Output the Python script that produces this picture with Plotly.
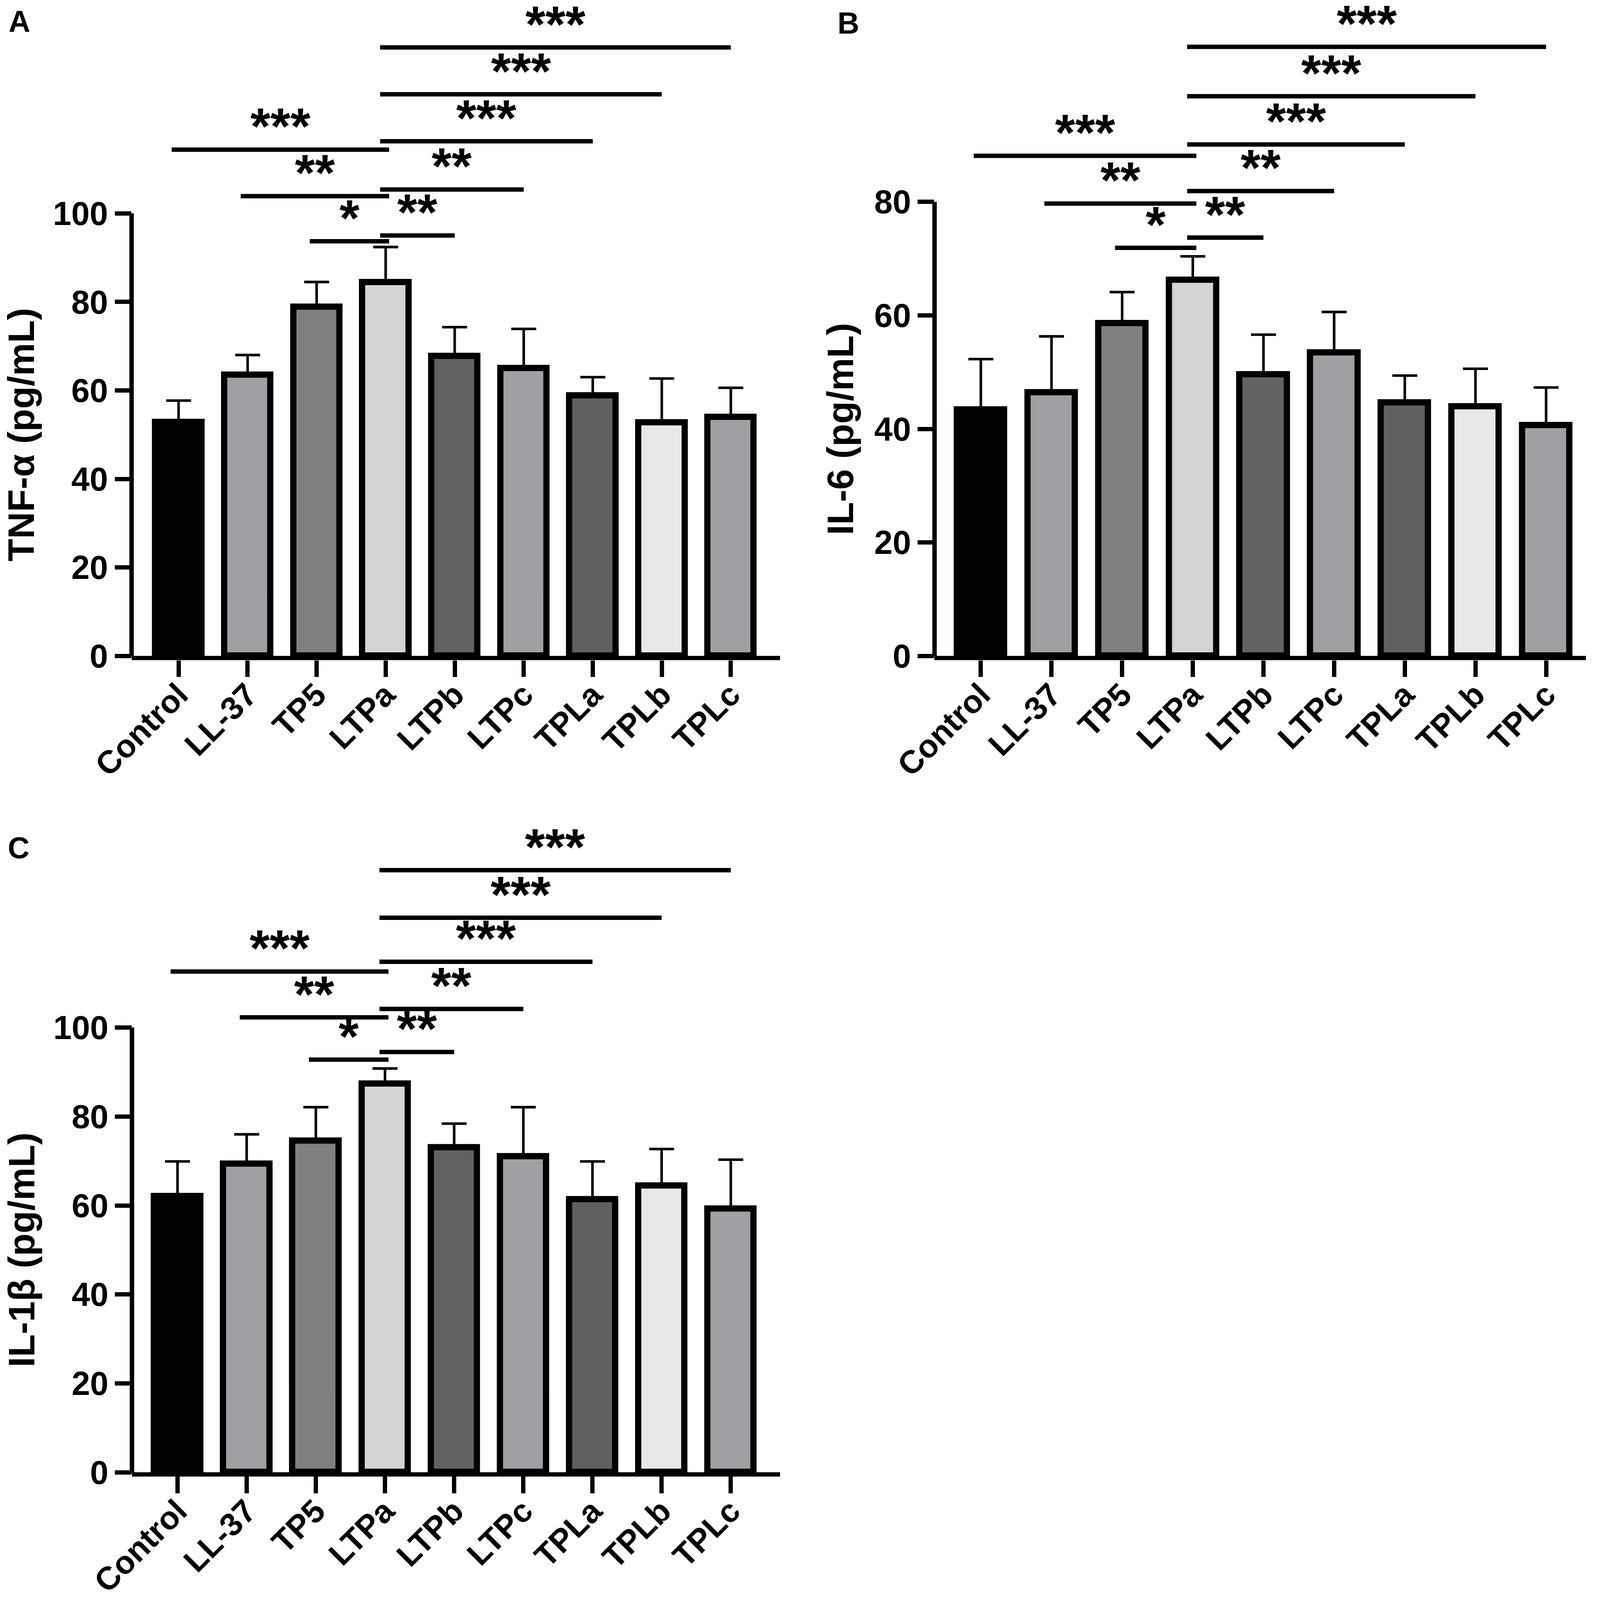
"""Cytokine bar charts (TNF-α, IL-6, IL-1β) with significance brackets, Plotly."""

import plotly.graph_objects as go

# geometry below is measured on the 4413x4290 reference; the page that gets
# photographed only shows a 4096 px square, so the figure is drawn to fit it
REF_W, REF_H = 4413, 4290
FIG_W, FIG_H = 4088, 4088
K = 0.94  # scale for px sizes (fonts, line widths, tick lengths)
FONT = "Liberation Sans, Arial, sans-serif"

# ---- data ----
groups = ["Control", "LL-37", "TP5", "LTPa", "LTPb", "LTPc", "TPLa", "TPLb", "TPLc"]
bar_colors = ["#000000", "#a0a0a4", "#808080", "#d4d4d4", "#626262",
              "#a0a0a4", "#606060", "#e8e8e8", "#a0a0a4"]

tnf_mean = [52.8, 63.5, 78.8, 84.4, 67.7, 65.0, 58.8, 52.7, 54.0]
tnf_sd = [4.9, 4.5, 5.7, 8.0, 6.6, 8.9, 4.2, 10.0, 6.6]

il6_mean = [43.4, 46.4, 58.6, 66.2, 49.6, 53.4, 44.6, 43.9, 40.6]
il6_sd = [8.9, 9.9, 5.5, 4.2, 7.0, 7.2, 4.8, 6.7, 6.7]

il1b_mean = [62.0, 69.3, 74.5, 87.3, 73.0, 71.0, 61.3, 64.4, 59.2]
il1b_sd = [7.9, 6.7, 7.6, 3.5, 5.4, 11.1, 8.6, 8.3, 11.1]

# pairwise comparisons (same in every panel)
comp_from = ["TP5", "LTPa", "LL-37", "LTPa", "Control", "LTPa", "LTPa", "LTPa"]
comp_to = ["LTPa", "LTPb", "LTPa", "LTPc", "LTPa", "TPLa", "TPLb", "TPLc"]
comp_stars = ["*", "**", "**", "**", "***", "***", "***", "***"]

# bracket heights (in axis units) per panel
tnf_bracket = [93.7, 95.0, 103.9, 105.4, 114.4, 116.3, 126.9, 137.5]
il6_bracket = [71.9, 73.7, 79.7, 81.9, 88.1, 90.1, 98.6, 107.3]
il1b_bracket = [92.8, 94.5, 102.3, 104.2, 112.6, 114.8, 124.7, 135.4]

y_ticks_100 = [0, 20, 40, 60, 80, 100]
y_ticks_80 = [0, 20, 40, 60, 80]

# ---- panel layout (reference pixel geometry) ----
panels = [
    dict(name="", letter="A", title="TNF-α (pg/mL)", mean=tnf_mean, sd=tnf_sd,
         bracket=tnf_bracket, ticks=y_ticks_100,
         x_px=(355, 2147), x_range=(-0.681, 8.713),
         y_px=(0, 1754), y_top=147.5, title_x=50, letter_xy=(13, 2)),
    dict(name="2", letter="B", title="IL-6 (pg/mL)", mean=il6_mean, sd=il6_sd,
         bracket=il6_bracket, ticks=y_ticks_80,
         x_px=(2574, 4374), x_range=(-0.655, 8.563),
         y_px=(0, 1754), y_top=115.0, title_x=2313, letter_xy=(2304, 6)),
    dict(name="3", letter="C", title="IL-1β (pg/mL)", mean=il1b_mean, sd=il1b_sd,
         bracket=il1b_bracket, ticks=y_ticks_100,
         x_px=(356, 2147), x_range=(-0.659, 8.712),
         y_px=(2150, 3947), y_top=150.4, title_x=51, letter_xy=(11, 2222)),
]

fig = go.Figure()
layout = {}
annotations = []
shapes = []
xpos = list(range(len(groups)))

for p in panels:
    xa, ya = "x" + p["name"], "y" + p["name"]
    xkey, ykey = "xaxis" + p["name"], "yaxis" + p["name"]
    ytop_px, ybot_px = p["y_px"]
    px_per_unit = (ybot_px - ytop_px) / p["y_top"]

    # bars with upper error bars
    fig.add_trace(go.Bar(
        x=xpos, y=p["mean"], width=0.67, xaxis=xa, yaxis=ya,
        marker=dict(color=bar_colors, line=dict(color="black", width=17 * K)),
        error_y=dict(type="data", array=p["sd"], arrayminus=[0] * len(groups),
                     symmetric=False, color="black", thickness=7 * K, width=34 * K),
        showlegend=False, hoverinfo="skip",
    ))

    # significance brackets
    bx, by = [], []
    for g1, g2, s, h in zip(comp_from, comp_to, comp_stars, p["bracket"]):
        x0 = groups.index(g1)
        x1 = groups.index(g2)
        if g2 == "LTPa":
            x0, x1 = x0 - 0.1, x1 + 0.05
        else:
            x0 = x0 - 0.08
        bx += [x0, x1, None]
        by += [h, h, None]
        annotations.append(dict(
            x=(x0 + x1) / 2, y=h, xref=xa, yref=ya, text=s, showarrow=False,
            xanchor="center", yanchor="middle", yshift=63 * K,
            font=dict(family=FONT, size=140 * K, color="black", weight="bold"),
        ))
    fig.add_trace(go.Scatter(
        x=bx, y=by, mode="lines", xaxis=xa, yaxis=ya,
        line=dict(color="black", width=12 * K), showlegend=False, hoverinfo="skip",
    ))

    # y axis line only spans the tick range (starts under the x axis line)
    shapes.append(dict(
        type="line", xref=xa + " domain", yref=ya, x0=0, x1=0,
        y0=-6 / px_per_unit, y1=p["ticks"][-1], line=dict(color="black", width=12 * K),
    ))

    x0_px, x1_px = p["x_px"]
    layout[xkey] = dict(
        domain=[x0_px / REF_W, x1_px / REF_W], range=list(p["x_range"]), anchor=ya,
        showline=True, linecolor="black", linewidth=12 * K,
        ticks="outside", ticklen=45 * K, tickwidth=12 * K, tickcolor="black",
        tickvals=xpos, ticktext=groups, tickangle=-45, ticklabelstandoff=-36,
        tickfont=dict(family=FONT, size=88 * K, color="black", weight="bold"),
        showgrid=False, zeroline=False, automargin=False, fixedrange=True,
    )
    layout[ykey] = dict(
        domain=[1 - ybot_px / REF_H, 1 - ytop_px / REF_H], range=[0, p["y_top"]],
        anchor=xa, showline=False, ticks="outside", ticklen=45 * K,
        tickwidth=12 * K, tickcolor="black", tickvals=p["ticks"],
        tickfont=dict(family=FONT, size=90 * K, color="black", weight="bold"),
        showgrid=False, zeroline=False, automargin=False, fixedrange=True,
    )

    # axis title as rotated annotation
    annotations.append(dict(
        x=p["title_x"] / REF_W, xref="paper", y=p["ticks"][-1] / 2, yref=ya,
        text=p["title"], textangle=-90, showarrow=False,
        xanchor="center", yanchor="middle",
        font=dict(family=FONT, size=101 * K, color="black", weight="bold"),
    ))

    # panel letter
    lx, ly = p["letter_xy"]
    annotations.append(dict(
        x=lx / REF_W, y=1 - ly / REF_H, xref="paper", yref="paper", text=p["letter"],
        showarrow=False, xanchor="left", yanchor="top",
        font=dict(family=FONT, size=82 * K, color="black", weight="bold"),
    ))

fig.update_layout(
    width=FIG_W, height=FIG_H,
    margin=dict(l=0, r=0, t=0, b=0, pad=0),
    plot_bgcolor="white", paper_bgcolor="white",
    bargap=0, showlegend=False,
    annotations=annotations, shapes=shapes,
    **layout,
)

fig.write_html("out.html")
